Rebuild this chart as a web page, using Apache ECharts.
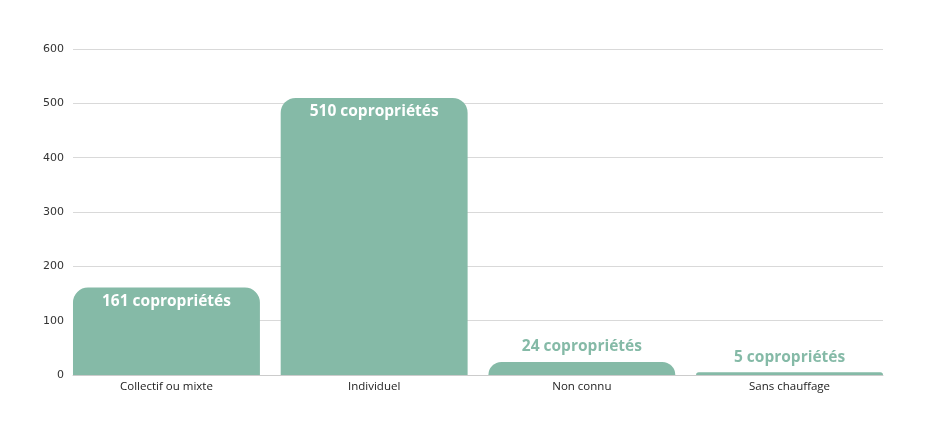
<!DOCTYPE html>
<html>
<head>
<meta charset="utf-8">
<script src="https://cdn.jsdelivr.net/npm/echarts@6/dist/echarts.min.js"></script>
<style>
  html, body { margin: 0; padding: 0; background: #fff; }
  #chart { width: 935px; height: 437px; }
</style>
</head>
<body>
<div id="chart"></div>
<script>
// données
const categories = ['Collectif ou mixte', 'Individuel', 'Non connu', 'Sans chauffage'];
const values = [161, 510, 24, 5];
const yTicks = [0, 100, 200, 300, 400, 500, 600];

const green = '#85baa7';

const chart = echarts.init(document.getElementById('chart'));

const seriesData = values.map(function (v) {
    const big = v > 100;
    return {
        value: v,
        label: {
            position: big ? 'insideTop' : 'top',
            color: big ? '#ffffff' : green,
            distance: big ? 6 : 7
        }
    };
});

// grille 0 : axe des valeurs + lignes ; grille 1 : barres (un peu plus large)
chart.setOption({
    animation: false,
    grid: [
        { left: 73, right: 52, top: 49, bottom: 62 },
        { left: 62.6, right: 41.6, top: 49, bottom: 62 }
    ],
    xAxis: [{
        type: 'category',
        gridIndex: 0,
        data: categories,
        axisLine: { lineStyle: { color: '#cccccc' } },
        axisTick: { show: false },
        axisLabel: { show: false }
    }, {
        type: 'category',
        gridIndex: 1,
        data: categories,
        axisLine: { show: false },
        axisTick: { show: false },
        axisLabel: { color: '#222', fontSize: 11.5, fontFamily: 'Open Sans', margin: 6 }
    }],
    yAxis: [{
        type: 'value',
        gridIndex: 0,
        min: yTicks[0],
        max: yTicks[yTicks.length - 1],
        interval: 100,
        axisLine: { show: false },
        axisTick: { show: false },
        axisLabel: { color: '#333', fontSize: 11, fontFamily: 'DejaVu Sans', margin: 9 },
        splitLine: { lineStyle: { color: '#d9d9d9' } }
    }, {
        type: 'value',
        gridIndex: 1,
        min: yTicks[0],
        max: yTicks[yTicks.length - 1],
        interval: 100,
        show: false
    }],
    series: [{
        type: 'bar',
        xAxisIndex: 1,
        yAxisIndex: 1,
        data: seriesData,
        barCategoryGap: '10%',
        itemStyle: { color: green, borderRadius: [15, 15, 0, 0] },
        label: {
            show: true,
            formatter: '{c} copropriétés',
            fontFamily: 'Open Sans',
            fontWeight: 'bold',
            fontSize: 15.5
        }
    }]
});
</script>
</body>
</html>
